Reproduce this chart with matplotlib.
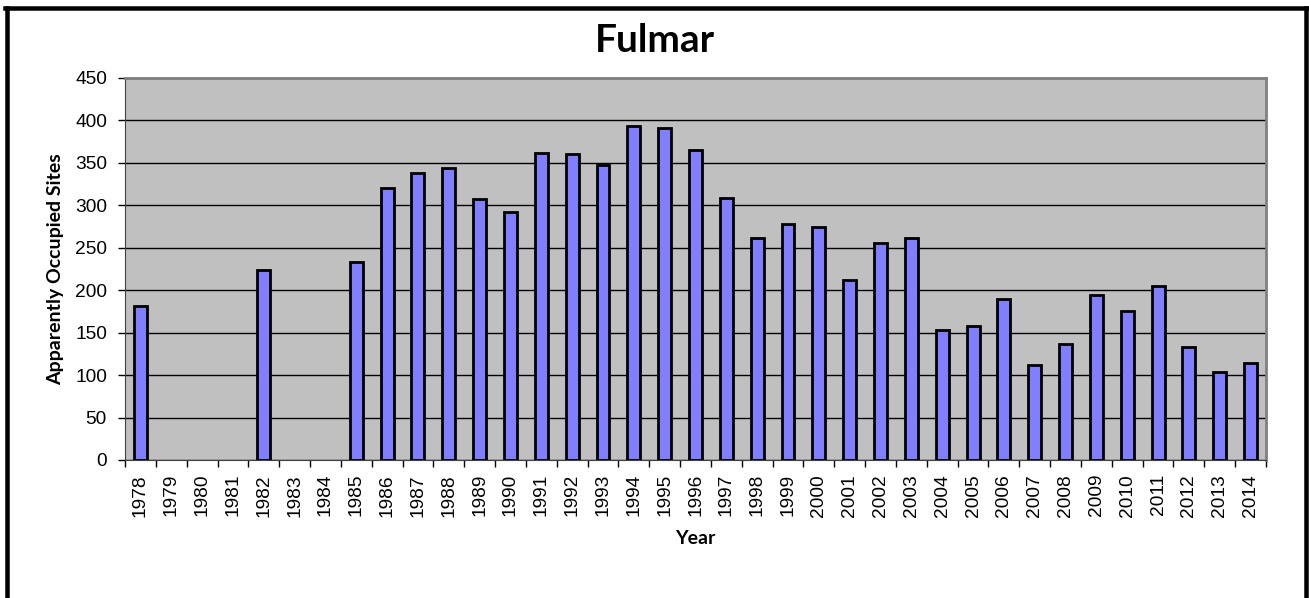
import numpy as np
import matplotlib.pyplot as plt
from matplotlib.lines import Line2D

# data (None = no survey that year)
years = list(range(1978, 2015))
sites = [181, None, None, None, 224, None, None, 233, 321, 338, 344, 308, 292,
         362, 361, 347, 393, 391, 365, 309, 261, 278, 275, 212, 256, 262, 153,
         158, 190, 112, 137, 194, 175, 205, 133, 104, 114]
y_ticks = list(range(0, 451, 50))

W, H = 1309, 598
fig = plt.figure(figsize=(W / 100, H / 100), dpi=100)
ax = fig.add_axes([125 / W, (H - 460) / H, (1266 - 125) / W, (460 - 78) / H])

x = np.arange(len(years))
bx = [i for i, v in zip(x, sites) if v is not None]
bv = [v for v in sites if v is not None]
ax.set_facecolor('#C0C0C0')
ax.bar(bx, bv, width=0.42, color='#8080FF', edgecolor='black', linewidth=2, zorder=3)

ax.set_xlim(-0.5, len(years) - 0.5)
ax.set_ylim(0, 450)
ax.set_yticks(y_ticks)
ax.yaxis.grid(True, color='black', linewidth=1)
ax.set_axisbelow(True)

# category labels at centres, ticks on boundaries (spreadsheet style)
ax.set_xticks(x)
ax.set_xticklabels([str(y) for y in years], rotation=90, family='Liberation Sans', fontsize=13.8)
ax.set_xticks(np.arange(-0.5, len(years)), minor=True)
ax.tick_params(axis='x', which='major', length=0, pad=10)
ax.tick_params(axis='x', which='minor', length=5, width=1, color='black')
ax.tick_params(axis='y', length=5, width=1, pad=8)
for lab in ax.get_yticklabels():
    lab.set_family('Liberation Sans')
    lab.set_fontsize(13.8)

for side in ['top', 'right']:
    ax.spines[side].set_color('#808080')
    ax.spines[side].set_linewidth(2)
ax.spines['left'].set_color('#404040')
ax.spines['bottom'].set_color('#404040')

ax.set_ylabel('Apparently Occupied Sites', family='Lato', fontweight='bold', fontsize=14, labelpad=8)
fig.text(695 / W, 1 - 539 / H, 'Year', family='Lato', fontweight='bold', fontsize=14,
         ha='center', va='center')
fig.text(0.5, 1 - 41 / H, 'Fulmar', family='Lato', fontweight='bold', fontsize=28,
         ha='center', va='center')

# outer frame (open at the bottom, as in the source)
lw = 4.5 * 72 / 100
fig.add_artist(Line2D([6.5 / W, 6.5 / W], [0, 1 - 8 / H], color='black', linewidth=lw, transform=fig.transFigure))
fig.add_artist(Line2D([1305.5 / W, 1305.5 / W], [0, 1 - 8 / H], color='black', linewidth=lw, transform=fig.transFigure))
fig.add_artist(Line2D([4.5 / W, 1307.5 / W], [1 - 8 / H, 1 - 8 / H], color='black', linewidth=lw, transform=fig.transFigure))

fig.savefig('out.png', dpi=100)
